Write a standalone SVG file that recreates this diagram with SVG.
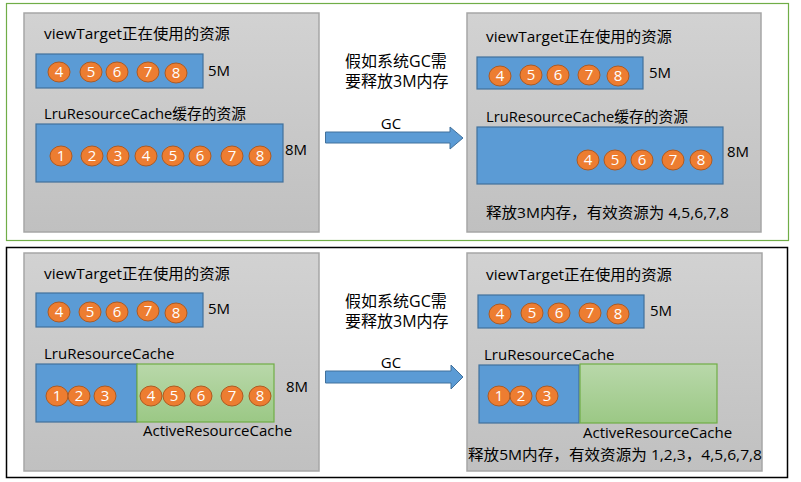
<svg xmlns="http://www.w3.org/2000/svg" width="801" height="482" viewBox="0 0 801 482">
<defs>
<linearGradient id="gray" x1="0" y1="0" x2="0" y2="1"><stop offset="0" stop-color="#d2d2d2"/><stop offset="1" stop-color="#c0c0c0"/></linearGradient>
<linearGradient id="green" x1="0" y1="0" x2="0" y2="1"><stop offset="0" stop-color="#b9d8aa"/><stop offset="1" stop-color="#9bc885"/></linearGradient>
<style>
text{font-family:"Open Sans","Noto Sans CJK SC","Noto Sans",sans-serif;fill:#000}
.t{font-size:15px}
.m{font-size:16px}
.panel{fill:url(#gray);stroke:#a6a6a6;stroke-width:1.5}
.blue{fill:#5b9bd5;stroke:#41719c;stroke-width:1.2}
.grn{fill:url(#green);stroke:#70ad47;stroke-width:1.2}
.c ellipse{fill:#ed7d31;stroke:#ae5a21;stroke-width:1}
.c text{fill:#fff;font-size:15px;text-anchor:middle}
.arrow{fill:#5b9bd5;stroke:#41719c;stroke-width:1}
</style>
</defs>
<rect x="0" y="0" width="801" height="482" fill="#fff"/>
<rect id="frame-top" x="6.5" y="3.5" width="782" height="237" fill="none" stroke="#70ad47" stroke-width="1.2"/>
<rect id="frame-bottom" x="6.5" y="247.5" width="781" height="230" fill="none" stroke="#000" stroke-width="1.5"/>

<g id="tl">
<rect class="panel" x="24" y="13" width="295" height="219"/>
<text class="t" x="44" y="39" textLength="186" lengthAdjust="spacingAndGlyphs">viewTarget正在使用的资源</text>
<rect class="blue" x="36" y="54" width="167" height="34"/>
<g class="c">
<ellipse cx="59" cy="72" rx="11" ry="10"/><text x="59" y="77">4</text>
<ellipse cx="91" cy="72" rx="11" ry="10"/><text x="91" y="77">5</text>
<ellipse cx="117" cy="72" rx="11" ry="10"/><text x="117" y="77">6</text>
<ellipse cx="148" cy="72" rx="11" ry="10"/><text x="148" y="77">7</text>
<ellipse cx="176" cy="73" rx="11" ry="10"/><text x="176" y="78">8</text>
</g>
<text class="t" x="208" y="76">5M</text>
<text class="t" x="44" y="119" textLength="202" lengthAdjust="spacingAndGlyphs">LruResourceCache缓存的资源</text>
<rect class="blue" x="36" y="124" width="247" height="58"/>
<g class="c">
<ellipse cx="61" cy="156" rx="11" ry="10"/><text x="61" y="161">1</text>
<ellipse cx="92" cy="156" rx="11" ry="10"/><text x="92" y="161">2</text>
<ellipse cx="118" cy="156" rx="11" ry="10"/><text x="118" y="161">3</text>
<ellipse cx="146" cy="156" rx="11" ry="10"/><text x="146" y="161">4</text>
<ellipse cx="173" cy="156" rx="11" ry="10"/><text x="173" y="161">5</text>
<ellipse cx="200" cy="156" rx="11" ry="10"/><text x="200" y="161">6</text>
<ellipse cx="232" cy="156" rx="11" ry="10"/><text x="232" y="161">7</text>
<ellipse cx="260" cy="156" rx="11" ry="10"/><text x="260" y="161">8</text>
</g>
<text class="t" x="285" y="155">8M</text>
</g>

<g id="tm">
<text class="m" x="345" y="67">假如系统GC需</text>
<text class="m" x="345" y="87">要释放3M内存</text>
</g>

<g id="tr">
<rect class="panel" x="467" y="13" width="294" height="219"/>
<text class="t" x="486" y="42" textLength="186" lengthAdjust="spacingAndGlyphs">viewTarget正在使用的资源</text>
<rect class="blue" x="477" y="57" width="166" height="32"/>
<g class="c">
<ellipse cx="500" cy="76" rx="11" ry="10"/><text x="500" y="81">4</text>
<ellipse cx="531" cy="75" rx="11" ry="10"/><text x="531" y="80">5</text>
<ellipse cx="558" cy="75" rx="11" ry="10"/><text x="558" y="80">6</text>
<ellipse cx="589" cy="75" rx="11" ry="10"/><text x="589" y="80">7</text>
<ellipse cx="618" cy="76" rx="11" ry="10"/><text x="618" y="81">8</text>
</g>
<text class="t" x="649" y="78">5M</text>
<text class="t" x="486" y="122" textLength="202" lengthAdjust="spacingAndGlyphs">LruResourceCache缓存的资源</text>
<rect class="blue" x="477" y="127" width="246" height="57"/>
<g class="c">
<ellipse cx="588" cy="160" rx="11" ry="10"/><text x="588" y="165">4</text>
<ellipse cx="615" cy="160" rx="11" ry="10"/><text x="615" y="165">5</text>
<ellipse cx="642" cy="160" rx="11" ry="10"/><text x="642" y="165">6</text>
<ellipse cx="673" cy="160" rx="11" ry="10"/><text x="673" y="165">7</text>
<ellipse cx="701" cy="160" rx="11" ry="10"/><text x="701" y="165">8</text>
</g>
<text class="t" x="727" y="157">8M</text>
<text class="t" x="486" y="218" textLength="243" lengthAdjust="spacingAndGlyphs">释放3M内存，有效资源为 4,5,6,7,8</text>
</g>

<g id="bl">
<rect class="panel" x="24" y="253" width="295" height="218"/>
<text class="t" x="44" y="279" textLength="186" lengthAdjust="spacingAndGlyphs">viewTarget正在使用的资源</text>
<rect class="blue" x="36" y="293" width="167" height="34"/>
<g class="c">
<ellipse cx="59" cy="312" rx="11" ry="10"/><text x="59" y="317">4</text>
<ellipse cx="90" cy="312" rx="11" ry="10"/><text x="90" y="317">5</text>
<ellipse cx="117" cy="312" rx="11" ry="10"/><text x="117" y="317">6</text>
<ellipse cx="148" cy="311" rx="11" ry="10"/><text x="148" y="316">7</text>
<ellipse cx="176" cy="313" rx="11" ry="10"/><text x="176" y="318">8</text>
</g>
<text class="t" x="208" y="314">5M</text>
<text class="t" x="44" y="359">LruResourceCache</text>
<rect class="blue" x="36" y="364" width="101" height="58"/>
<rect class="grn" x="137" y="364" width="137" height="58"/>
<g class="c">
<ellipse cx="57" cy="396" rx="11" ry="10"/><text x="57" y="401">1</text>
<ellipse cx="79" cy="396" rx="11" ry="10"/><text x="79" y="401">2</text>
<ellipse cx="105" cy="396" rx="11" ry="10"/><text x="105" y="401">3</text>
<ellipse cx="151" cy="396" rx="11" ry="10"/><text x="151" y="401">4</text>
<ellipse cx="174" cy="396" rx="11" ry="10"/><text x="174" y="401">5</text>
<ellipse cx="201" cy="396" rx="11" ry="10"/><text x="201" y="401">6</text>
<ellipse cx="232" cy="396" rx="11" ry="10"/><text x="232" y="401">7</text>
<ellipse cx="260" cy="396" rx="11" ry="10"/><text x="260" y="401">8</text>
</g>
<text class="t" x="286" y="392">8M</text>
<text class="t" x="143" y="436">ActiveResourceCache</text>
</g>

<g id="bm">
<text class="m" x="345" y="307">假如系统GC需</text>
<text class="m" x="345" y="327">要释放3M内存</text>
</g>

<g id="br">
<rect class="panel" x="467" y="253" width="295" height="218"/>
<text class="t" x="486" y="280" textLength="186" lengthAdjust="spacingAndGlyphs">viewTarget正在使用的资源</text>
<rect class="blue" x="478" y="295" width="166" height="33"/>
<g class="c">
<ellipse cx="500" cy="314" rx="11" ry="10"/><text x="500" y="319">4</text>
<ellipse cx="532" cy="313" rx="11" ry="10"/><text x="532" y="318">5</text>
<ellipse cx="559" cy="313" rx="11" ry="10"/><text x="559" y="318">6</text>
<ellipse cx="590" cy="313" rx="11" ry="10"/><text x="590" y="318">7</text>
<ellipse cx="618" cy="314" rx="11" ry="10"/><text x="618" y="319">8</text>
</g>
<text class="t" x="650" y="316">5M</text>
<text class="t" x="484" y="360">LruResourceCache</text>
<rect class="blue" x="479" y="365" width="100" height="58"/>
<rect class="grn" x="580" y="364" width="137" height="59"/>
<g class="c">
<ellipse cx="499" cy="396" rx="11" ry="10"/><text x="499" y="401">1</text>
<ellipse cx="521" cy="396" rx="11" ry="10"/><text x="521" y="401">2</text>
<ellipse cx="547" cy="396" rx="11" ry="10"/><text x="547" y="401">3</text>
</g>
<text class="t" x="583" y="438">ActiveResourceCache</text>
<text class="t" x="468" y="460" textLength="294" lengthAdjust="spacingAndGlyphs">释放5M内存，有效资源为 1,2,3，4,5,6,7,8</text>
</g>

<g id="connectors">
<path class="arrow" d="M325.5,132 H450 V127 L463,138 L450,149 V143 H325.5 Z"/>
<text class="t" x="391" y="129" text-anchor="middle">GC</text>
<path class="arrow" d="M325.5,371 H451 V365 L463,377 L451,389 V383 H325.5 Z"/>
<text class="t" x="391" y="368" text-anchor="middle">GC</text>
</g>
</svg>
